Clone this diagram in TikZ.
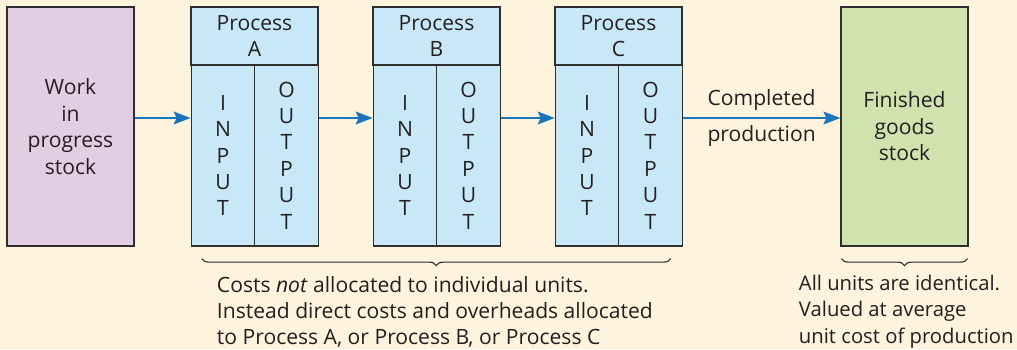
\documentclass[tikz,border=0pt]{standalone}
\usepackage{fontspec}
\setmainfont{Open Sans}
\usetikzlibrary{arrows.meta,decorations.pathreplacing}
\definecolor{bgcol}{HTML}{FEF3DC}
\definecolor{wipcol}{HTML}{E3CDE3}
\definecolor{proccol}{HTML}{C8E8F8}
\definecolor{fincol}{HTML}{D0E2AD}
\definecolor{edgecol}{HTML}{2E2E2E}
\definecolor{arrcol}{HTML}{1C75BC}
\definecolor{txtcol}{HTML}{231F20}
\begin{document}
\begin{tikzpicture}[x=0.025cm, y=-0.025cm,
	every node/.style={font=\fontsize{15}{18.8}\selectfont, text=txtcol},
	box/.style={draw=edgecol, line width=0.8pt, minimum width=3.175cm, minimum height=5.975cm, align=center, inner sep=0pt},
	head/.style={draw=edgecol, line width=0.8pt, fill=proccol, minimum width=3.175cm, minimum height=1.45cm, align=center, inner sep=0pt},
	col/.style={draw=edgecol, line width=0.8pt, fill=proccol, minimum width=1.5875cm, minimum height=4.525cm, align=center, inner sep=0pt},
	arr/.style={draw=arrcol, line width=1.8pt, -{Stealth[length=12pt, width=9pt, inset=2pt]}},
	br/.style={decorate, decoration={brace, mirror, amplitude=5pt}, draw=edgecol, line width=0.8pt}]
	\fill[bgcol] (0,0) rectangle (1017,349);
	\useasboundingbox (0,0) rectangle (1017,349);

	\node[box, fill=wipcol] (wip) at (70.5,126.5) {Work\\in\\progress\\stock};
	\foreach \n/\x/\l in {a/191/A, b/373/B, c/555/C} {
		\node[head] (\n-head) at (\x+63.5,36) {Process\\\l};
		\node[col] (\n-in) at (\x+32,155.5) {I\\N\\P\\U\\T};
		\node[col] (\n-out) at (\x+95.5,155.5) {O\\U\\T\\P\\U\\T};
	}
	\node[box, fill=fincol] (fin) at (904.5,126.5) {Finished\\goods\\stock};

	\coordinate (lvl) at (0,118);
	\draw[arr] (lvl -| wip.east) -- (lvl -| a-in.west);
	\draw[arr] (lvl -| a-out.east) -- (lvl -| b-in.west);
	\draw[arr] (lvl -| b-out.east) -- (lvl -| c-in.west);
	\draw[arr] (lvl -| c-out.east) -- node[above=1pt] (done) {Completed} node[below=1pt] (prod) {production} (lvl -| fin.west);

	\draw[br] ([shift={(11,12)}]a-in.south west) -- ([shift={(-12,12)}]c-out.south east);
	\draw[br] ([shift={(1,12)}]fin.south west) -- ([shift={(-1,12)}]fin.south east);

	\node[anchor=north west, align=left] (costs) at (212,271) {Costs \emph{not} allocated to individual units.\\Instead direct costs and overheads allocated\\to Process A, or Process B, or Process C};
	\node[anchor=north west, align=left, font=\fontsize{14.4}{18.8}\selectfont] (units) at (794,270) {All units are identical.\\Valued at average\\unit cost of production};
\end{tikzpicture}
\end{document}
